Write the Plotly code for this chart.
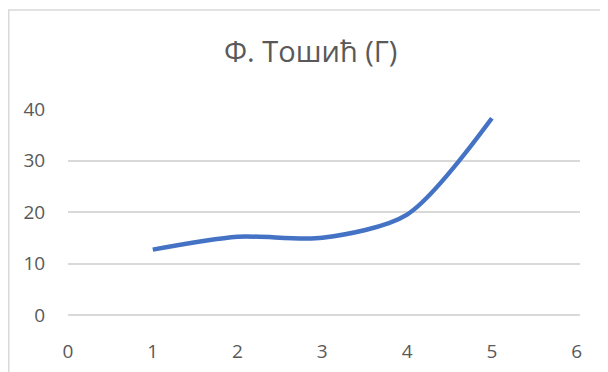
import plotly.graph_objects as go

# data part
x_vals = [1, 2, 3, 4, 5]
y_vals = [12.7, 15.2, 15.0, 19.5, 38.2]

title_text = "Ф. Тошић (Г)"

fig = go.Figure()

fig.add_trace(go.Scatter(
    x=x_vals,
    y=y_vals,
    mode="lines",
    line=dict(color="#4472C4", width=4.5, shape="spline", smoothing=0.8),
    showlegend=False,
))

font_family = "Open Sans, Noto Sans, sans-serif"

# page body has an 8px margin, so figure is 8px smaller each way
fig.update_layout(
    width=600,
    height=364,
    paper_bgcolor="white",
    plot_bgcolor="white",
    margin=dict(l=60, r=28, t=101, b=57),
    title=dict(
        text=title_text,
        x=0.5045, xanchor="center",
        y=0.88, yanchor="middle",
        font=dict(family=font_family, size=29, color="#595959"),
    ),
    xaxis=dict(
        range=[0, 6.04],
        tickmode="linear", tick0=0, dtick=1,
        showgrid=False, zeroline=False, showline=False,
        ticks="outside", ticklen=19, tickcolor="rgba(0,0,0,0)",
        tickfont=dict(family=font_family, size=19, color="#595959"),
        automargin=False,
    ),
    yaxis=dict(
        range=[0, 40],
        tickmode="linear", tick0=0, dtick=10,
        showgrid=True, gridcolor="#D9D9D9", gridwidth=1.5,
        zeroline=True, zerolinecolor="#D9D9D9", zerolinewidth=1.5,
        showline=False,
        ticks="outside", ticklen=18, tickcolor="rgba(0,0,0,0)",
        tickfont=dict(family=font_family, size=19, color="#595959"),
        automargin=False,
    ),
    shapes=[dict(
        type="rect", xref="paper", yref="paper",
        x0=-0.1157, x1=1.2, y0=-0.5, y1=1.4806,
        line=dict(color="#D9D9D9", width=1.5),
        layer="below",
    )],
)

fig.write_html("out.html")
